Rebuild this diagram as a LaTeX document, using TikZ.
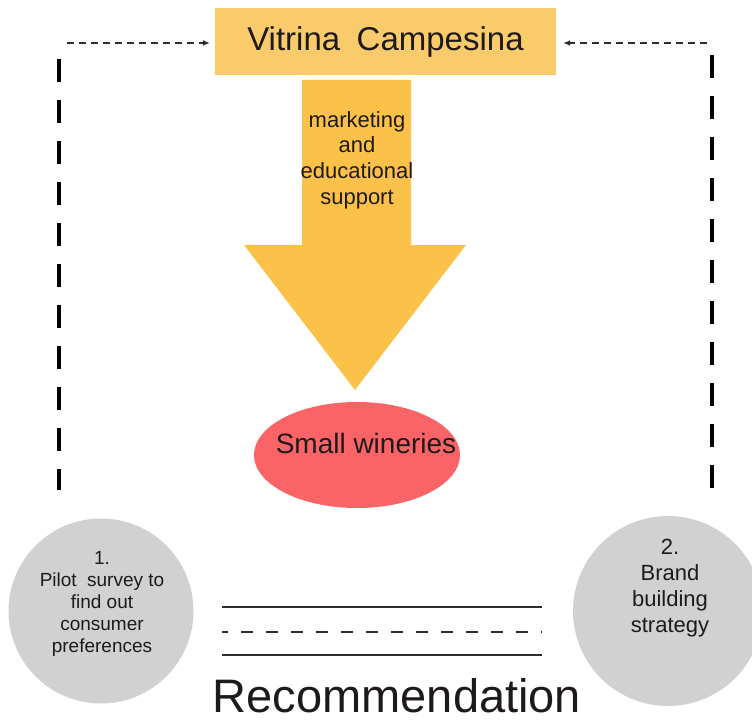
\documentclass[tikz,border=0pt]{standalone}
\usepackage{fontspec}
\setmainfont{Liberation Sans}
\usetikzlibrary{arrows.meta,shapes.geometric}
\definecolor{boxor}{RGB}{249,203,107}
\definecolor{arrowor}{RGB}{251,193,72}
\definecolor{winered}{RGB}{250,100,102}
\definecolor{circgray}{RGB}{209,209,209}
\definecolor{txt}{RGB}{30,26,26}
\definecolor{linegray}{RGB}{45,45,45}
\tikzset{
  vcbox/.style={fill=boxor, draw=none, minimum width=341pt, minimum height=67pt, inner sep=0pt,
    font=\fontsize{33}{38}\selectfont, text=txt},
  harrow/.style={draw=linegray, line width=1.2pt, dash pattern=on 7pt off 5pt, -{Latex[length=7pt,width=6pt]}},
  vdash/.style={draw=black, line width=4pt, dash pattern=on 23pt off 18pt},
  wine/.style={ellipse, fill=winered, draw=none, minimum width=206pt, minimum height=106pt, inner sep=0pt},
  graycirc/.style={circle, fill=circgray, draw=none, inner sep=0pt},
  txtnode/.style={align=center, text=txt, inner sep=0pt},
  bline/.style={draw=linegray, line width=1.4pt},
}
\begin{document}
\begin{tikzpicture}[x=1pt,y=-1pt]
\useasboundingbox (0,0) rectangle (752,722);
\clip (0,0) rectangle (752,722);
% top box
\node[vcbox] (vc) at (385.5,41.5) {Vitrina\hspace{0.5em}Campesina};
% big arrow
\fill[arrowor] (302,80) -- (411,80) -- (411,245) -- (466,245) -- (355,390) -- (244,245) -- (302,245) -- cycle;
\node[txtnode, font=\fontsize{22}{25.7}\selectfont] (ms) at (357,160) {marketing\\and\\educational\\support};
% small wineries
\node[wine] (sw) at (357,455) {};
\node[txtnode, font=\fontsize{28}{32}\selectfont] (swt) at ([xshift=9pt,yshift=12pt]sw.center) {Small wineries};
% dashed frame
\coordinate (lt) at (59,59);
\coordinate (lb) at (59,490);
\coordinate (la) at (67,43);
\coordinate (rt) at (712,55);
\coordinate (rb) at (712,495);
\coordinate (ra) at (707,43);
\draw[vdash] (lt) -- (lb);
\draw[vdash] (rt) -- (rb);
\draw[harrow, shorten >=5pt] (la) -- (vc.west |- la);
\draw[harrow, shorten >=7pt] (ra) -- (vc.east |- ra);
% circles
\node[graycirc, minimum size=185pt] (c1) at (101,611) {};
\node[txtnode, font=\fontsize{19}{21.8}\selectfont] (c1t) at (102,604) {1.\\Pilot\hspace{0.55em}survey to\\find out\\consumer\\preferences};
\node[graycirc, minimum size=190pt] (c2) at (668,611) {};
\node[txtnode, font=\fontsize{22}{26}\selectfont] (c2t) at (670,588) {2.\\Brand\\building\\strategy};
% lines
\coordinate (l1a) at (222,607); \coordinate (l1b) at (542,607);
\coordinate (l2a) at (222,632); \coordinate (l2b) at (542,632);
\coordinate (l3a) at (222,655); \coordinate (l3b) at (542,655);
\draw[bline] (l1a) -- (l1b);
\draw[bline, dash pattern=on 12pt off 13pt, dash phase=6pt] (l2a) -- (l2b);
\draw[bline] (l3a) -- (l3b);
\node[txtnode, font=\fontsize{47}{52}\selectfont] (rec) at (397,696) {Recommendation};
\end{tikzpicture}
\end{document}
